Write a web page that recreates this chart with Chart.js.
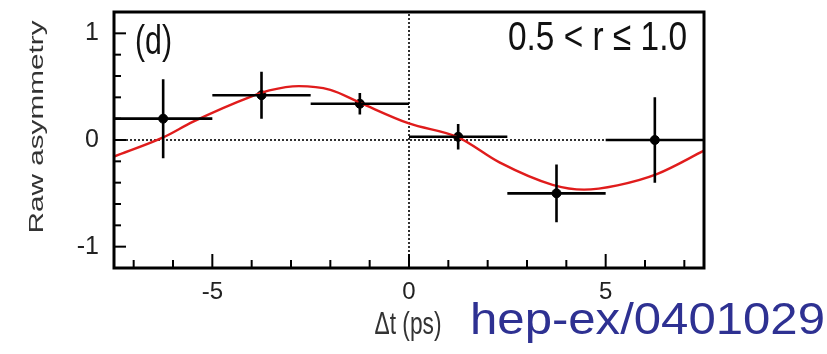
<!DOCTYPE html>
<html>
<head>
<meta charset="utf-8">
<script src="https://cdn.jsdelivr.net/npm/chart.js@4.4.1/dist/chart.umd.min.js"></script>
<style>
  html, body { margin: 0; padding: 0; background: #fff; }
  canvas { display: block; }
</style>
</head>
<body>
<canvas id="asymChart" width="827" height="354"></canvas>
<script>
// binned data points (dt in ps)
const binCenters = [-6.25, -3.75, -1.25, 1.25, 3.75, 6.25];
const binHalfWidth = [1.25, 1.25, 1.25, 1.25, 1.25, 1.25];
const rawAsym = [0.20, 0.42, 0.34, 0.03, -0.50, 0.00];
const rawAsymErr = [0.37, 0.22, 0.10, 0.12, 0.27, 0.40];

// fitted curve
const fitDt = [-7.5, -6.25, -5.5, -4.0, -3.55, -2.8, -2.0, -1.25, 0, 1.25, 2.3, 3.65, 4.45, 5.3, 6.3, 7.5];
const fitAsym = [-0.155, 0.024, 0.17, 0.41, 0.465, 0.505, 0.47, 0.35, 0.155, 0.025, -0.21, -0.42, -0.465, -0.425, -0.32, -0.10];

// axis ticks
const xTicks = [-7, -6, -5, -4, -3, -2, -1, 0, 1, 2, 3, 4, 5, 6, 7];
const xLabelled = [-5, 0, 5];
const yTicks = [-1, -0.8, -0.6, -0.4, -0.2, 0, 0.2, 0.4, 0.6, 0.8, 1];
const yLabelled = [-1, 0, 1];

const FONT = '"Liberation Sans", Arial, sans-serif';

const isLabelled = (list, v) => list.some(l => Math.abs(l - v) < 1e-6);

// text squeezed/stretched to a given width (the source image is not 1:1)
function fitText(ctx, text, size, x, y, width, align, rotate) {
  ctx.save();
  ctx.font = size + "px " + FONT;
  const sx = width / ctx.measureText(text).width;
  ctx.translate(x, y);
  if (rotate) {
    ctx.scale(0.68, 1);
    ctx.rotate(-Math.PI / 2);
    ctx.scale(sx, 1);
  } else {
    ctx.scale(sx, 1);
  }
  ctx.textAlign = align;
  ctx.fillText(text, 0, 0);
  ctx.restore();
}

// ROOT-like frame, inner ticks, error bars and text
const rootStyle = {
  id: "rootStyle",
  afterDatasetsDraw(chart) {
    const { ctx, chartArea: a, scales: { x, y } } = chart;
    ctx.save();

    // error bars
    ctx.strokeStyle = "#000";
    ctx.lineWidth = 2.6;
    binCenters.forEach((c, i) => {
      const px = x.getPixelForValue(c);
      const py = y.getPixelForValue(rawAsym[i]);
      ctx.beginPath();
      ctx.moveTo(x.getPixelForValue(c - binHalfWidth[i]), py);
      ctx.lineTo(x.getPixelForValue(c + binHalfWidth[i]), py);
      ctx.moveTo(px, y.getPixelForValue(rawAsym[i] + rawAsymErr[i]));
      ctx.lineTo(px, y.getPixelForValue(rawAsym[i] - rawAsymErr[i]));
      ctx.stroke();
    });

    // inner ticks
    ctx.lineWidth = 2;
    x.ticks.forEach(t => {
      const px = x.getPixelForValue(t.value);
      const len = isLabelled(xLabelled, t.value) ? 14 : 8;
      ctx.beginPath();
      ctx.moveTo(px, a.bottom);
      ctx.lineTo(px, a.bottom - len);
      ctx.stroke();
    });
    y.ticks.forEach(t => {
      const py = y.getPixelForValue(t.value);
      const len = isLabelled(yLabelled, t.value) ? 12 : 7;
      ctx.beginPath();
      ctx.moveTo(a.left, py);
      ctx.lineTo(a.left + len, py);
      ctx.stroke();
    });

    // frame
    ctx.lineWidth = 3;
    ctx.strokeRect(a.left, a.top, a.right - a.left, a.bottom - a.top);

    // labels
    ctx.fillStyle = "#111";
    ctx.textBaseline = "alphabetic";
    fitText(ctx, "(d)", 40, a.left + 21, a.top + 42, 37, "left");
    fitText(ctx, "0.5 < r \u2264 1.0", 41, a.right - 17, a.top + 38, 179, "right");
    ctx.fillStyle = "#333";
    fitText(ctx, "\u0394t (ps)", 31, 408, 334, 67, "center");
    fitText(ctx, "Raw asymmetry", 30, 43, 127, 213, "center", true);

    ctx.fillStyle = "#2e3192";
    fitText(ctx, "hep-ex/0401029", 44, 825, 334, 355, "right");
    ctx.restore();
  }
};

new Chart(document.getElementById("asymChart").getContext("2d"), {
  type: "scatter",
  data: {
    datasets: [
      {
        type: "line",
        data: fitDt.map((t, i) => ({ x: t, y: fitAsym[i] })),
        borderColor: "#e01c1c",
        borderWidth: 2.4,
        pointRadius: 0,
        cubicInterpolationMode: "monotone",
        fill: false
      },
      {
        type: "line",
        data: [{ x: -7.5, y: 0 }, { x: 7.5, y: 0 }],
        borderColor: "#000",
        borderWidth: 1.6,
        borderDash: [2, 2],
        pointRadius: 0
      },
      {
        type: "line",
        data: [{ x: 0, y: -1.2 }, { x: 0, y: 1.2 }],
        borderColor: "#000",
        borderWidth: 1.6,
        borderDash: [2, 2],
        pointRadius: 0
      },
      {
        data: binCenters.map((c, i) => ({ x: c, y: rawAsym[i] })),
        backgroundColor: "#000",
        borderColor: "#000",
        pointRadius: 4.5
      }
    ]
  },
  options: {
    responsive: false,
    animation: false,
    devicePixelRatio: 1,
    layout: { padding: { top: 12, right: 123, left: 0, bottom: 0 } },
    plugins: { legend: { display: false }, tooltip: { enabled: false } },
    scales: {
      x: {
        type: "linear",
        min: -7.5,
        max: 7.5,
        afterBuildTicks: s => { s.ticks = xTicks.map(v => ({ value: v })); },
        afterFit: s => { s.height = 86; s.paddingLeft = 0; s.paddingRight = 0; },
        grid: { display: false, drawTicks: false },
        border: { display: false },
        ticks: {
          autoSkip: false,
          maxRotation: 0,
          padding: 10,
          color: "#222",
          font: { family: FONT, size: 24 },
          callback: v => isLabelled(xLabelled, v) ? String(v) : ""
        }
      },
      y: {
        type: "linear",
        min: -1.2,
        max: 1.2,
        afterBuildTicks: s => { s.ticks = yTicks.map(v => ({ value: v })); },
        afterFit: s => { s.width = 114; s.paddingTop = 0; s.paddingBottom = 0; },
        grid: { display: false, drawTicks: false },
        border: { display: false },
        ticks: {
          autoSkip: false,
          padding: 15,
          color: "#222",
          font: { family: FONT, size: 25 },
          callback: v => isLabelled(yLabelled, v) ? String(Math.round(v)) : ""
        }
      }
    }
  },
  plugins: [rootStyle]
});
</script>
</body>
</html>
